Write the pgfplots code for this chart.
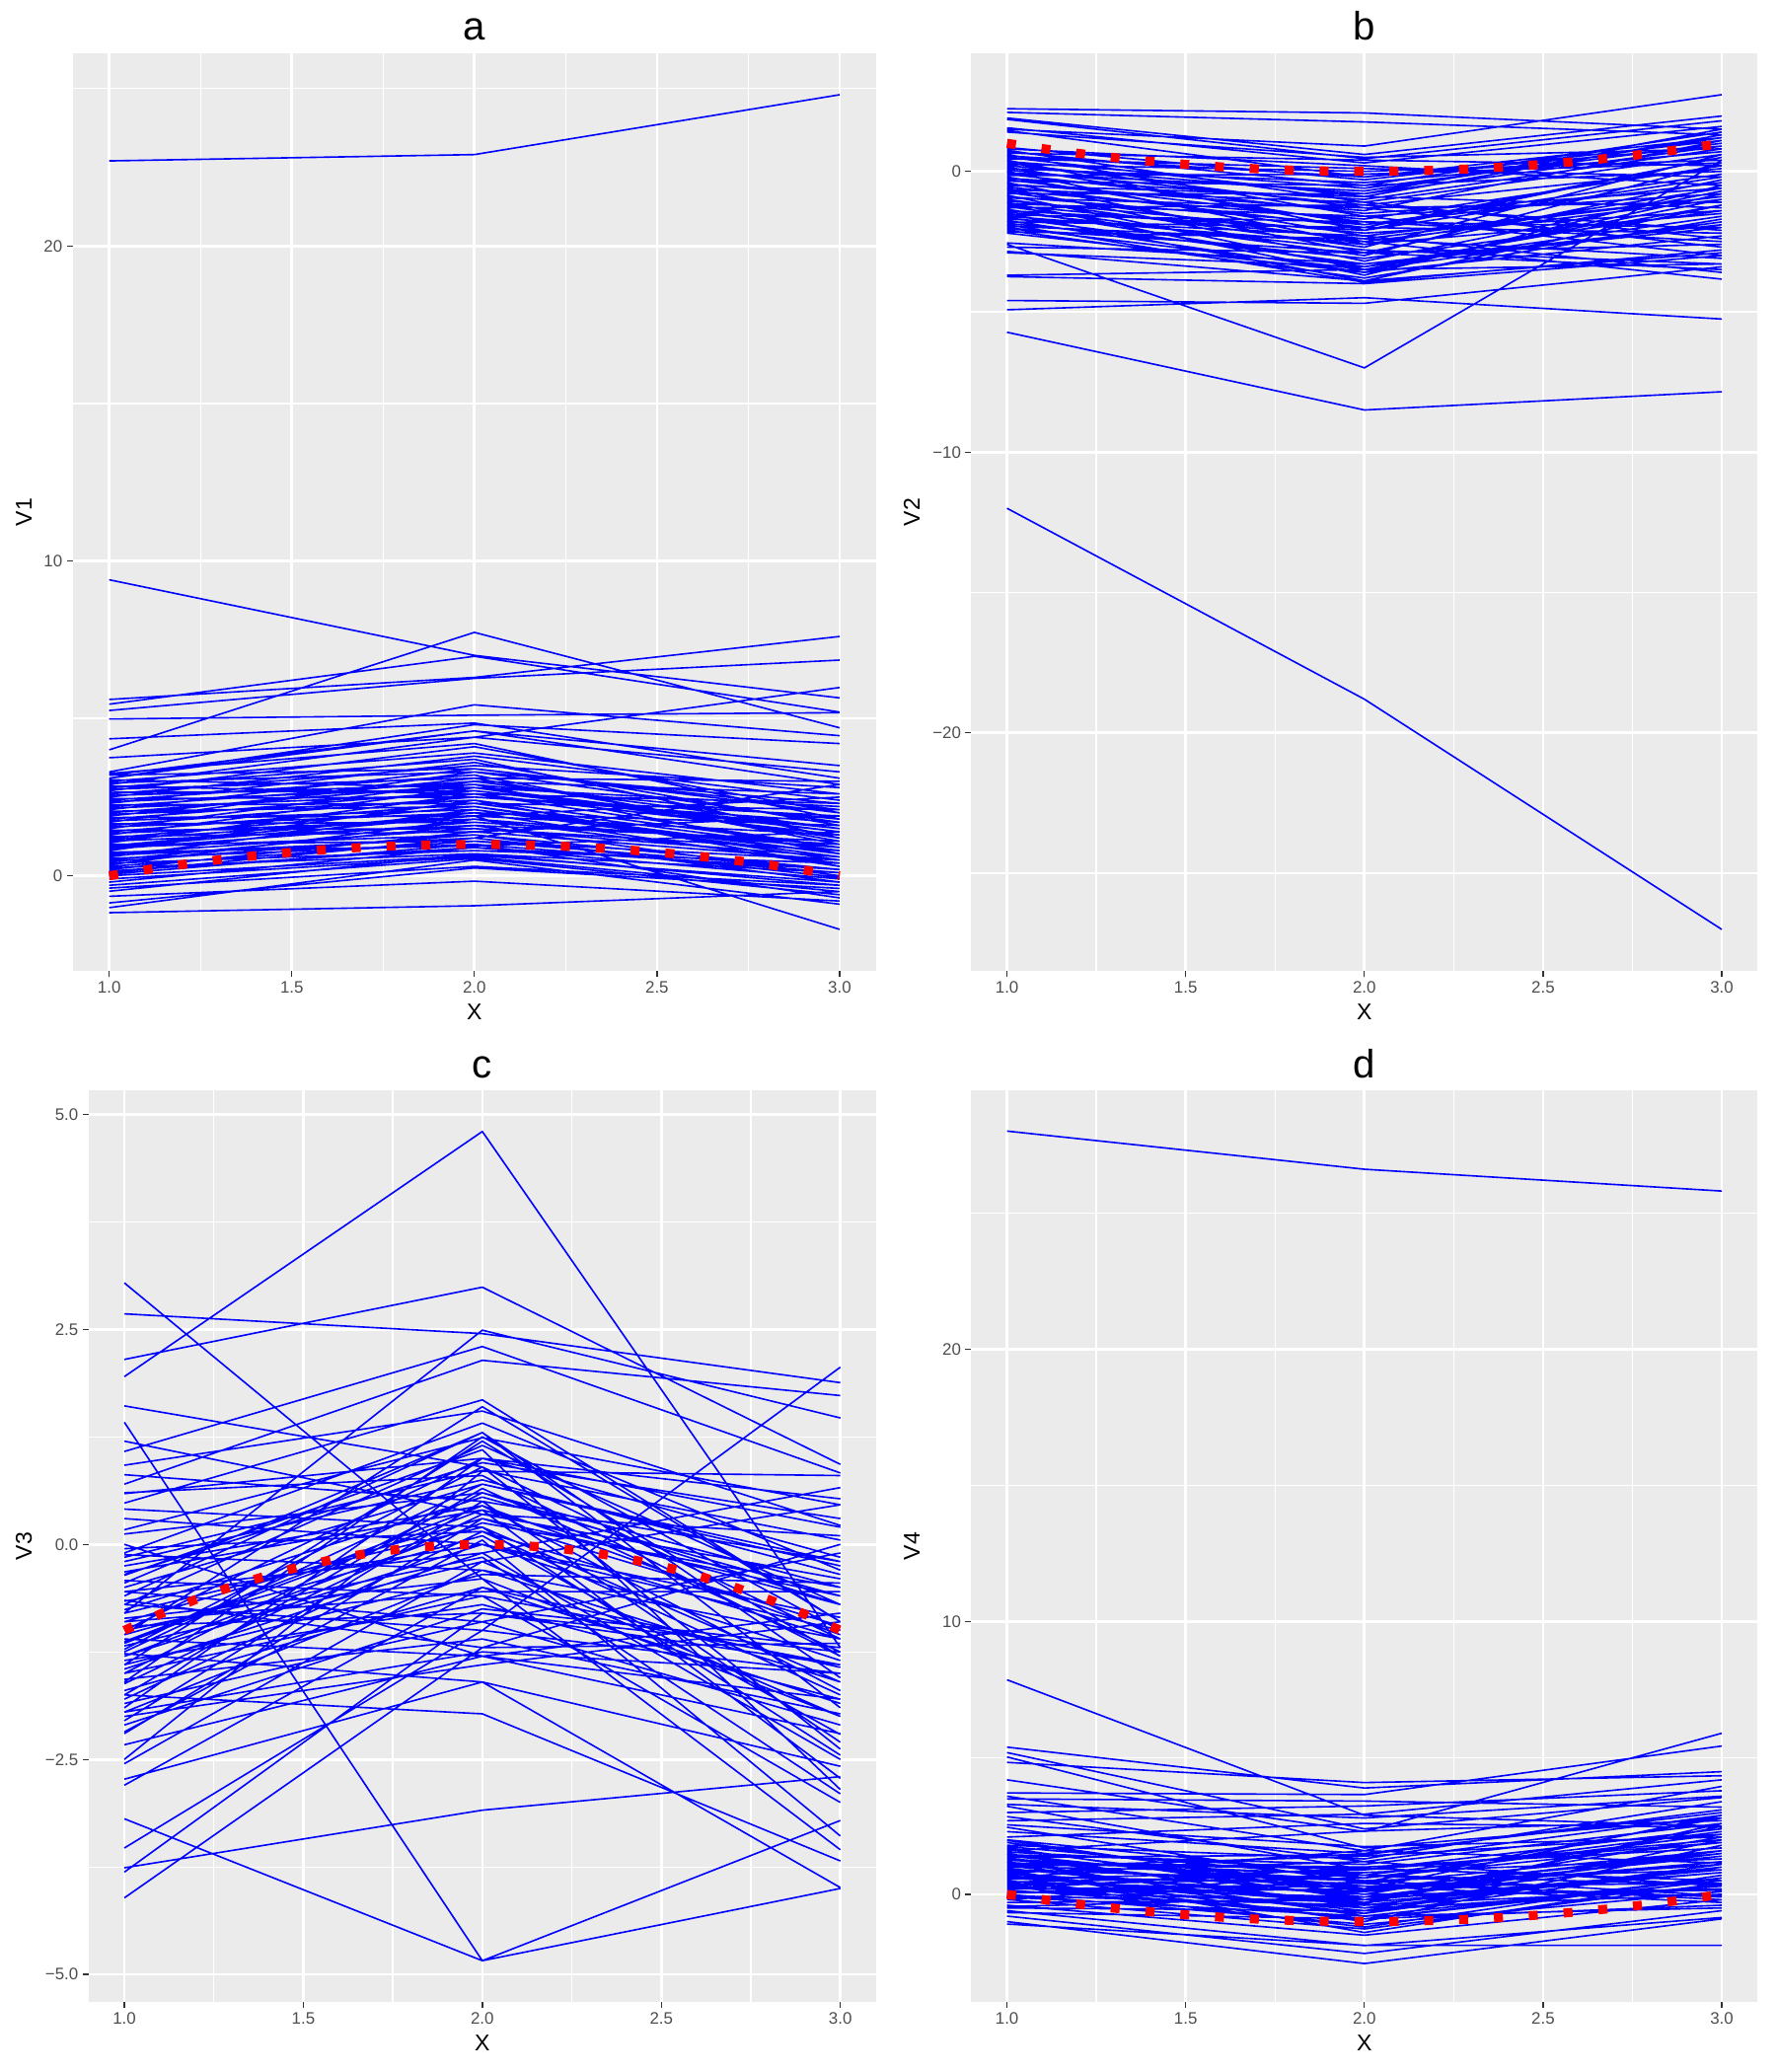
\documentclass[border=0pt]{standalone}
\usepackage{fontspec}
\setmainfont{Liberation Sans}
\usepackage{pgfplots}
\usepackage{pgfplotstable}
\pgfplotsset{compat=1.18}
\definecolor{panelbg}{HTML}{EBEBEB}
\definecolor{tickcol}{HTML}{333333}
\definecolor{ticklab}{HTML}{4D4D4D}
\definecolor{lineblue}{HTML}{0000FF}
\definecolor{curvered}{HTML}{FF0000}

\pgfplotsset{gg/.style={
  scale only axis,
  axis background/.style={fill=panelbg},
  axis line style={draw=none},
  grid=both,
  major grid style={white, line width=1pt},
  minor grid style={white, line width=0.5pt},
  tick align=outside,
  tick pos=left,
  major tick length=2.2pt,
  minor tick length=0pt,
  tick style={tickcol, line width=0.5pt},
  xmin=0.9, xmax=3.1,
  xtick={1,1.5,2,2.5,3},
  xticklabels={1.0,1.5,2.0,2.5,3.0},
  minor xtick={1.25,1.75,2.25,2.75},
  ticklabel style={font=\fontsize{6.3}{7}\selectfont, text=ticklab},
  xticklabel style={inner sep=1.5pt},
  yticklabel style={inner sep=1.5pt},
  xlabel={X},
  label style={font=\fontsize{8.6}{10}\selectfont},
  xlabel style={at={(axis description cs:0.5,0)}, anchor=base, yshift=-18.5pt, inner sep=0pt},
  every axis title/.style={font=\fontsize{15}{17}\selectfont, at={(axis description cs:0.5,1)}, anchor=base, yshift=4.7pt, inner sep=0pt},
  unbounded coords=jump,
}}
\tikzset{
  bl/.style={lineblue, line width=0.6pt, line join=round},
  rd/.style={curvered, line width=3.4pt, dash pattern=on 3.4pt off 9.8pt},
}

% ---------- panel a ----------
\pgfplotstableread[row sep=\\]{
x y\\
1 22.7\\ 2 22.9\\ 3 24.8\\ nan nan\\
1 9.4\\ 2 7.0\\ 3 5.65\\ nan nan\\
1 5.6\\ 2 6.3\\ 3 7.6\\ nan nan\\
1 5.45\\ 2 6.97\\ 3 5.2\\ nan nan\\
1 5.25\\ 2 6.27\\ 3 6.85\\ nan nan\\
1 4.98\\ 2 5.1\\ 3 5.18\\ nan nan\\
1 4.35\\ 2 4.85\\ 3 3.1\\ nan nan\\
1 4.0\\ 2 7.73\\ 3 4.7\\ nan nan\\
1 3.75\\ 2 4.4\\ 3 5.98\\ nan nan\\
1 3.3\\ 2 5.43\\ 3 4.45\\ nan nan\\
1 3.2\\ 2 4.6\\ 3 2.9\\ nan nan\\
1 3.1\\ 2 4.8\\ 3 4.2\\ nan nan\\
1 0.15\\ 2 0.9\\ 3 -0.1\\ nan nan\\
1 0.2\\ 2 1.4\\ 3 0.5\\ nan nan\\
1 0.25\\ 2 0.7\\ 3 -0.3\\ nan nan\\
1 0.3\\ 2 1.1\\ 3 0.2\\ nan nan\\
1 0.35\\ 2 1.8\\ 3 0.9\\ nan nan\\
1 0.4\\ 2 0.8\\ 3 0.4\\ nan nan\\
1 0.45\\ 2 1.3\\ 3 -0.2\\ nan nan\\
1 0.5\\ 2 1.6\\ 3 1.1\\ nan nan\\
1 0.55\\ 2 1.0\\ 3 0.1\\ nan nan\\
1 0.6\\ 2 2.1\\ 3 0.7\\ nan nan\\
1 0.65\\ 2 1.2\\ 3 -0.05\\ nan nan\\
1 0.7\\ 2 1.5\\ 3 0.6\\ nan nan\\
1 0.75\\ 2 0.95\\ 3 1.4\\ nan nan\\
1 0.8\\ 2 2.4\\ 3 0.3\\ nan nan\\
1 0.85\\ 2 1.7\\ 3 1.0\\ nan nan\\
1 0.9\\ 2 1.3\\ 3 0.2\\ nan nan\\
1 0.95\\ 2 2.0\\ 3 1.6\\ nan nan\\
1 1.0\\ 2 1.1\\ 3 0.5\\ nan nan\\
1 1.05\\ 2 2.6\\ 3 0.9\\ nan nan\\
1 1.1\\ 2 1.6\\ 3 0.0\\ nan nan\\
1 1.15\\ 2 1.9\\ 3 1.3\\ nan nan\\
1 1.2\\ 2 2.2\\ 3 0.7\\ nan nan\\
1 1.25\\ 2 1.4\\ 3 1.9\\ nan nan\\
1 1.3\\ 2 2.8\\ 3 1.2\\ nan nan\\
1 1.35\\ 2 1.8\\ 3 0.4\\ nan nan\\
1 1.4\\ 2 2.3\\ 3 2.1\\ nan nan\\
1 1.45\\ 2 1.5\\ 3 0.8\\ nan nan\\
1 1.5\\ 2 3.0\\ 3 1.5\\ nan nan\\
1 1.55\\ 2 2.0\\ 3 0.3\\ nan nan\\
1 1.6\\ 2 2.5\\ 3 1.7\\ nan nan\\
1 1.65\\ 2 1.7\\ 3 1.0\\ nan nan\\
1 1.7\\ 2 3.3\\ 3 2.3\\ nan nan\\
1 1.75\\ 2 2.1\\ 3 0.6\\ nan nan\\
1 1.8\\ 2 2.7\\ 3 1.4\\ nan nan\\
1 1.85\\ 2 1.9\\ 3 2.5\\ nan nan\\
1 1.9\\ 2 3.1\\ 3 1.1\\ nan nan\\
1 1.95\\ 2 2.4\\ 3 0.9\\ nan nan\\
1 2.0\\ 2 2.9\\ 3 1.8\\ nan nan\\
1 2.05\\ 2 2.2\\ 3 0.5\\ nan nan\\
1 2.1\\ 2 3.4\\ 3 2.0\\ nan nan\\
1 2.15\\ 2 2.6\\ 3 1.3\\ nan nan\\
1 2.2\\ 2 3.0\\ 3 2.6\\ nan nan\\
1 2.25\\ 2 2.3\\ 3 0.8\\ nan nan\\
1 2.3\\ 2 3.6\\ 3 1.6\\ nan nan\\
1 2.35\\ 2 2.8\\ 3 2.2\\ nan nan\\
1 2.4\\ 2 3.2\\ 3 1.0\\ nan nan\\
1 2.45\\ 2 2.5\\ 3 1.9\\ nan nan\\
1 2.5\\ 2 3.8\\ 3 2.4\\ nan nan\\
1 2.55\\ 2 2.9\\ 3 0.7\\ nan nan\\
1 2.6\\ 2 3.5\\ 3 2.8\\ nan nan\\
1 2.65\\ 2 2.7\\ 3 1.5\\ nan nan\\
1 2.7\\ 2 4.1\\ 3 2.0\\ nan nan\\
1 2.75\\ 2 3.1\\ 3 3.0\\ nan nan\\
1 2.8\\ 2 3.7\\ 3 1.2\\ nan nan\\
1 2.85\\ 2 2.6\\ 3 2.3\\ nan nan\\
1 2.9\\ 2 4.4\\ 3 3.3\\ nan nan\\
1 2.95\\ 2 3.3\\ 3 1.7\\ nan nan\\
1 3.0\\ 2 3.9\\ 3 2.6\\ nan nan\\
1 3.05\\ 2 2.8\\ 3 1.4\\ nan nan\\
1 3.1\\ 2 4.6\\ 3 3.5\\ nan nan\\
1 3.2\\ 2 3.4\\ 3 2.1\\ nan nan\\
1 3.25\\ 2 4.2\\ 3 1.8\\ nan nan\\
1 -0.1\\ 2 0.6\\ 3 -0.5\\ nan nan\\
1 -0.2\\ 2 0.9\\ 3 0.2\\ nan nan\\
1 -0.3\\ 2 0.55\\ 3 -0.6\\ nan nan\\
1 -0.39\\ 2 0.3\\ 3 -0.3\\ nan nan\\
1 -0.49\\ 2 0.7\\ 3 0.1\\ nan nan\\
1 -0.65\\ 2 -0.17\\ 3 -0.8\\ nan nan\\
1 -0.86\\ 2 0.25\\ 3 -0.4\\ nan nan\\
1 -1.01\\ 2 0.5\\ 3 -0.9\\ nan nan\\
1 -1.17\\ 2 -0.95\\ 3 -0.5\\ nan nan\\
1 0.05\\ 2 1.0\\ 3 -0.7\\ nan nan\\
1 0.0\\ 2 0.65\\ 3 -0.2\\ nan nan\\
1 0.1\\ 2 1.2\\ 3 2.9\\ nan nan\\
1 0.9\\ 2 1.9\\ 3 -1.7\\ nan nan\\
}\Ta

% ---------- panel b ----------
\pgfplotstableread[row sep=\\]{
x y\\
1 -12.0\\ 2 -18.8\\ 3 -27.0\\ nan nan\\
1 -5.73\\ 2 -8.5\\ 3 -7.85\\ nan nan\\
1 -2.6\\ 2 -7.0\\ 3 0.4\\ nan nan\\
1 -4.93\\ 2 -4.5\\ 3 -5.26\\ nan nan\\
1 -4.6\\ 2 -4.7\\ 3 -3.4\\ nan nan\\
1 -3.75\\ 2 -4.0\\ 3 -3.0\\ nan nan\\
1 -3.7\\ 2 -3.5\\ 3 -3.3\\ nan nan\\
1 2.23\\ 2 2.08\\ 3 1.5\\ nan nan\\
1 1.5\\ 2 0.9\\ 3 2.73\\ nan nan\\
1 2.1\\ 2 1.76\\ 3 1.3\\ nan nan\\
1 1.9\\ 2 0.6\\ 3 1.97\\ nan nan\\
1 1.85\\ 2 0.45\\ 3 1.8\\ nan nan\\
1 1.55\\ 2 0.3\\ 3 1.6\\ nan nan\\
1 1.45\\ 2 -0.2\\ 3 1.2\\ nan nan\\
1 1.4\\ 2 0.5\\ 3 0.8\\ nan nan\\
1 0.85\\ 2 -0.3\\ 3 1.1\\ nan nan\\
1 0.8\\ 2 0.2\\ 3 -0.5\\ nan nan\\
1 0.75\\ 2 -1.1\\ 3 0.6\\ nan nan\\
1 0.7\\ 2 -0.5\\ 3 1.4\\ nan nan\\
1 0.65\\ 2 0.4\\ 3 0.2\\ nan nan\\
1 0.6\\ 2 -1.6\\ 3 -0.8\\ nan nan\\
1 0.55\\ 2 -0.2\\ 3 0.9\\ nan nan\\
1 0.5\\ 2 -0.9\\ 3 1.3\\ nan nan\\
1 0.45\\ 2 0.1\\ 3 -0.2\\ nan nan\\
1 0.4\\ 2 -2.1\\ 3 0.5\\ nan nan\\
1 0.35\\ 2 -0.6\\ 3 1.0\\ nan nan\\
1 0.3\\ 2 -1.3\\ 3 -1.1\\ nan nan\\
1 0.25\\ 2 0.0\\ 3 0.4\\ nan nan\\
1 0.2\\ 2 -0.8\\ 3 1.5\\ nan nan\\
1 0.15\\ 2 -1.9\\ 3 -0.4\\ nan nan\\
1 0.1\\ 2 -0.4\\ 3 0.7\\ nan nan\\
1 0.05\\ 2 -1.2\\ 3 0.1\\ nan nan\\
1 0.0\\ 2 -2.6\\ 3 -1.5\\ nan nan\\
1 -0.05\\ 2 -0.7\\ 3 1.2\\ nan nan\\
1 -0.1\\ 2 -1.5\\ 3 -0.6\\ nan nan\\
1 -0.15\\ 2 -0.1\\ 3 0.3\\ nan nan\\
1 -0.2\\ 2 -2.3\\ 3 -0.9\\ nan nan\\
1 -0.25\\ 2 -1.0\\ 3 0.8\\ nan nan\\
1 -0.3\\ 2 -1.8\\ 3 -2.0\\ nan nan\\
1 -0.35\\ 2 -0.5\\ 3 0.0\\ nan nan\\
1 -0.4\\ 2 -2.9\\ 3 -0.3\\ nan nan\\
1 -0.45\\ 2 -1.4\\ 3 1.1\\ nan nan\\
1 -0.5\\ 2 -0.9\\ 3 -1.3\\ nan nan\\
1 -0.55\\ 2 -2.0\\ 3 0.5\\ nan nan\\
1 -0.6\\ 2 -3.2\\ 3 -0.7\\ nan nan\\
1 -0.65\\ 2 -1.1\\ 3 -2.4\\ nan nan\\
1 -0.7\\ 2 -1.7\\ 3 0.2\\ nan nan\\
1 -0.75\\ 2 -2.5\\ 3 -1.0\\ nan nan\\
1 -0.8\\ 2 -0.8\\ 3 0.9\\ nan nan\\
1 -0.85\\ 2 -3.5\\ 3 -1.8\\ nan nan\\
1 -0.9\\ 2 -1.9\\ 3 -0.1\\ nan nan\\
1 -0.95\\ 2 -1.3\\ 3 -2.7\\ nan nan\\
1 -1.0\\ 2 -2.7\\ 3 0.6\\ nan nan\\
1 -1.05\\ 2 -2.2\\ 3 -1.4\\ nan nan\\
1 -1.1\\ 2 -3.7\\ 3 -0.5\\ nan nan\\
1 -1.15\\ 2 -1.6\\ 3 -3.0\\ nan nan\\
1 -1.2\\ 2 -2.4\\ 3 -0.9\\ nan nan\\
1 -1.25\\ 2 -3.0\\ 3 0.3\\ nan nan\\
1 -1.3\\ 2 -1.2\\ 3 -2.1\\ nan nan\\
1 -1.35\\ 2 -3.4\\ 3 -1.6\\ nan nan\\
1 -1.4\\ 2 -2.1\\ 3 -0.2\\ nan nan\\
1 -1.45\\ 2 -2.8\\ 3 -3.3\\ nan nan\\
1 -1.5\\ 2 -3.9\\ 3 -1.2\\ nan nan\\
1 -1.55\\ 2 -1.8\\ 3 -2.5\\ nan nan\\
1 -1.6\\ 2 -2.6\\ 3 -0.6\\ nan nan\\
1 -1.65\\ 2 -3.3\\ 3 -1.9\\ nan nan\\
1 -1.7\\ 2 -2.3\\ 3 -3.6\\ nan nan\\
1 -1.75\\ 2 -3.6\\ 3 -0.8\\ nan nan\\
1 -1.8\\ 2 -2.0\\ 3 -2.2\\ nan nan\\
1 -1.85\\ 2 -3.1\\ 3 -1.4\\ nan nan\\
1 -1.9\\ 2 -3.95\\ 3 -2.8\\ nan nan\\
1 -1.95\\ 2 -2.5\\ 3 -3.84\\ nan nan\\
1 -2.0\\ 2 -3.5\\ 3 -1.0\\ nan nan\\
1 -2.05\\ 2 -2.9\\ 3 -2.6\\ nan nan\\
1 -2.1\\ 2 -3.8\\ 3 -1.7\\ nan nan\\
1 -2.15\\ 2 -2.4\\ 3 -3.1\\ nan nan\\
1 -2.2\\ 2 -3.6\\ 3 -2.3\\ nan nan\\
1 -2.55\\ 2 -3.3\\ 3 -2.0\\ nan nan\\
1 -2.7\\ 2 -2.9\\ 3 -3.5\\ nan nan\\
1 -2.85\\ 2 -3.9\\ 3 -2.9\\ nan nan\\
1 -2.9\\ 2 -3.4\\ 3 -1.2\\ nan nan\\
}\Tb

% ---------- panel c ----------
\pgfplotstableread[row sep=\\]{
x y\\
1 3.04\\ 2 -0.4\\ 3 -3.55\\ nan nan\\
1 2.68\\ 2 2.45\\ 3 1.88\\ nan nan\\
1 2.15\\ 2 2.99\\ 3 0.93\\ nan nan\\
1 1.95\\ 2 4.80\\ 3 -1.2\\ nan nan\\
1 1.61\\ 2 0.9\\ 3 -2.38\\ nan nan\\
1 1.42\\ 2 -4.84\\ 3 -3.21\\ nan nan\\
1 1.08\\ 2 2.30\\ 3 0.83\\ nan nan\\
1 0.92\\ 2 1.55\\ 3 0.22\\ nan nan\\
1 0.81\\ 2 0.5\\ 3 -0.2\\ nan nan\\
1 0.70\\ 2 2.14\\ 3 1.73\\ nan nan\\
1 0.59\\ 2 1.0\\ 3 0.53\\ nan nan\\
1 0.48\\ 2 1.68\\ 3 -0.9\\ nan nan\\
1 0.41\\ 2 0.2\\ 3 -1.6\\ nan nan\\
1 0.17\\ 2 1.24\\ 3 0.46\\ nan nan\\
1 0.12\\ 2 0.6\\ 3 -0.5\\ nan nan\\
1 -0.1\\ 2 1.41\\ 3 -0.3\\ nan nan\\
1 -0.12\\ 2 -0.3\\ 3 -1.1\\ nan nan\\
1 -0.15\\ 2 0.86\\ 3 0.05\\ nan nan\\
1 -0.32\\ 2 0.4\\ 3 -0.7\\ nan nan\\
1 -0.36\\ 2 1.1\\ 3 -2.85\\ nan nan\\
1 -0.42\\ 2 -0.6\\ 3 -1.4\\ nan nan\\
1 -0.5\\ 2 0.7\\ 3 -0.2\\ nan nan\\
1 -0.55\\ 2 -0.1\\ 3 0.66\\ nan nan\\
1 -0.6\\ 2 1.3\\ 3 -1.9\\ nan nan\\
1 -0.66\\ 2 0.0\\ 3 -1.0\\ nan nan\\
1 -0.7\\ 2 -1.0\\ 3 -1.5\\ nan nan\\
1 -0.76\\ 2 0.55\\ 3 -0.6\\ nan nan\\
1 -0.8\\ 2 2.49\\ 3 1.47\\ nan nan\\
1 -0.86\\ 2 -0.4\\ 3 -2.0\\ nan nan\\
1 -0.9\\ 2 0.3\\ 3 -0.95\\ nan nan\\
1 -0.95\\ 2 -0.8\\ 3 -1.25\\ nan nan\\
1 -1.0\\ 2 1.0\\ 3 -0.15\\ nan nan\\
1 -1.05\\ 2 0.1\\ 3 -2.21\\ nan nan\\
1 -1.1\\ 2 -1.3\\ 3 -0.8\\ nan nan\\
1 -1.13\\ 2 0.45\\ 3 -1.7\\ nan nan\\
1 -1.18\\ 2 -0.2\\ 3 0.46\\ nan nan\\
1 -1.22\\ 2 0.9\\ 3 -1.1\\ nan nan\\
1 -1.27\\ 2 -1.6\\ 3 -2.58\\ nan nan\\
1 -1.3\\ 2 0.25\\ 3 -0.5\\ nan nan\\
1 -1.35\\ 2 -0.7\\ 3 -1.8\\ nan nan\\
1 -1.4\\ 2 1.2\\ 3 -1.3\\ nan nan\\
1 -1.45\\ 2 -0.1\\ 3 -2.5\\ nan nan\\
1 -1.5\\ 2 0.6\\ 3 -0.7\\ nan nan\\
1 -1.57\\ 2 -1.1\\ 3 -1.97\\ nan nan\\
1 -1.62\\ 2 0.35\\ 3 0.1\\ nan nan\\
1 -1.7\\ 2 -0.5\\ 3 -1.43\\ nan nan\\
1 -1.75\\ 2 -1.97\\ 3 -3.68\\ nan nan\\
1 -1.8\\ 2 0.15\\ 3 -1.1\\ nan nan\\
1 -1.85\\ 2 -0.9\\ 3 -2.1\\ nan nan\\
1 -1.9\\ 2 1.0\\ 3 0.2\\ nan nan\\
1 -1.95\\ 2 -0.3\\ 3 -1.6\\ nan nan\\
1 -2.0\\ 2 -1.4\\ 3 -0.9\\ nan nan\\
1 -2.05\\ 2 0.5\\ 3 -2.3\\ nan nan\\
1 -2.1\\ 2 -0.75\\ 3 -1.2\\ nan nan\\
1 -2.18\\ 2 0.05\\ 3 -3.39\\ nan nan\\
1 -2.33\\ 2 -1.3\\ 3 -1.8\\ nan nan\\
1 -2.55\\ 2 -0.2\\ 3 -2.0\\ nan nan\\
1 -2.73\\ 2 -1.6\\ 3 -3.99\\ nan nan\\
1 -3.19\\ 2 -4.84\\ 3 -4.0\\ nan nan\\
1 -3.53\\ 2 -1.0\\ 3 2.06\\ nan nan\\
1 -3.76\\ 2 -3.09\\ 3 -2.7\\ nan nan\\
1 -3.81\\ 2 -0.8\\ 3 -1.4\\ nan nan\\
1 -4.11\\ 2 -1.2\\ 3 0.0\\ nan nan\\
1 -0.2\\ 2 0.75\\ 3 -0.35\\ nan nan\\
1 0.3\\ 2 0.0\\ 3 -0.85\\ nan nan\\
1 -0.45\\ 2 1.3\\ 3 -1.55\\ nan nan\\
1 -1.25\\ 2 0.7\\ 3 -0.25\\ nan nan\\
1 -0.9\\ 2 -0.55\\ 3 -0.55\\ nan nan\\
1 -1.6\\ 2 1.25\\ 3 -1.0\\ nan nan\\
1 -0.05\\ 2 0.15\\ 3 -1.75\\ nan nan\\
1 -1.15\\ 2 0.4\\ 3 -2.72\\ nan nan\\
1 -0.65\\ 2 -1.2\\ 3 -1.15\\ nan nan\\
1 -0.35\\ 2 0.95\\ 3 0.3\\ nan nan\\
1 -1.4\\ 2 -0.35\\ 3 -0.45\\ nan nan\\
1 -0.8\\ 2 0.2\\ 3 -2.45\\ nan nan\\
1 0.6\\ 2 0.8\\ 3 -1.3\\ nan nan\\
1 -2.2\\ 2 0.3\\ 3 -0.6\\ nan nan\\
1 -1.05\\ 2 1.6\\ 3 -0.9\\ nan nan\\
1 -0.55\\ 2 -0.9\\ 3 -0.1\\ nan nan\\
1 -1.75\\ 2 0.65\\ 3 -1.25\\ nan nan\\
1 0.0\\ 2 -1.3\\ 3 -2.2\\ nan nan\\
1 -0.25\\ 2 0.45\\ 3 -1.05\\ nan nan\\
1 -1.5\\ 2 -0.6\\ 3 -3.0\\ nan nan\\
1 -2.5\\ 2 0.85\\ 3 0.8\\ nan nan\\
1 -0.7\\ 2 1.15\\ 3 -0.7\\ nan nan\\
1 -1.95\\ 2 -1.25\\ 3 -1.5\\ nan nan\\
1 1.2\\ 2 0.35\\ 3 -0.4\\ nan nan\\
1 -1.3\\ 2 0.0\\ 3 -1.35\\ nan nan\\
1 -2.8\\ 2 -0.5\\ 3 -1.85\\ nan nan\\
1 -1.0\\ 2 -0.15\\ 3 -2.9\\ nan nan\\
}\Tc

% ---------- panel d ----------
\pgfplotstableread[row sep=\\]{
x y\\
1 28.0\\ 2 26.6\\ 3 25.8\\ nan nan\\
1 7.87\\ 2 2.9\\ 3 2.5\\ nan nan\\
1 5.40\\ 2 3.9\\ 3 4.5\\ nan nan\\
1 5.2\\ 2 2.4\\ 3 3.55\\ nan nan\\
1 5.04\\ 2 1.7\\ 3 2.8\\ nan nan\\
1 4.84\\ 2 4.1\\ 3 4.35\\ nan nan\\
1 4.2\\ 2 2.3\\ 3 5.91\\ nan nan\\
1 3.72\\ 2 3.66\\ 3 5.44\\ nan nan\\
1 3.6\\ 2 1.6\\ 3 3.96\\ nan nan\\
1 3.5\\ 2 3.42\\ 3 3.2\\ nan nan\\
1 3.23\\ 2 0.9\\ 3 2.0\\ nan nan\\
1 3.0\\ 2 3.24\\ 3 3.8\\ nan nan\\
1 2.85\\ 2 1.2\\ 3 2.9\\ nan nan\\
1 2.7\\ 2 2.94\\ 3 4.2\\ nan nan\\
1 2.46\\ 2 0.4\\ 3 1.6\\ nan nan\\
1 2.3\\ 2 1.5\\ 3 3.0\\ nan nan\\
1 2.1\\ 2 2.6\\ 3 2.46\\ nan nan\\
1 1.98\\ 2 0.1\\ 3 1.2\\ nan nan\\
1 1.8\\ 2 1.3\\ 3 3.4\\ nan nan\\
1 1.75\\ 2 0.6\\ 3 2.2\\ nan nan\\
1 1.7\\ 2 -0.2\\ 3 0.8\\ nan nan\\
1 1.6\\ 2 2.32\\ 3 2.7\\ nan nan\\
1 1.55\\ 2 0.9\\ 3 1.9\\ nan nan\\
1 1.5\\ 2 -0.5\\ 3 1.0\\ nan nan\\
1 1.45\\ 2 1.1\\ 3 2.6\\ nan nan\\
1 1.4\\ 2 0.3\\ 3 0.4\\ nan nan\\
1 1.35\\ 2 1.45\\ 3 3.1\\ nan nan\\
1 1.3\\ 2 -0.1\\ 3 1.5\\ nan nan\\
1 1.25\\ 2 0.7\\ 3 2.3\\ nan nan\\
1 1.2\\ 2 -0.8\\ 3 0.6\\ nan nan\\
1 1.15\\ 2 1.0\\ 3 1.7\\ nan nan\\
1 1.1\\ 2 0.2\\ 3 2.9\\ nan nan\\
1 1.05\\ 2 -0.4\\ 3 0.2\\ nan nan\\
1 1.0\\ 2 0.8\\ 3 1.3\\ nan nan\\
1 0.95\\ 2 -0.3\\ 3 2.5\\ nan nan\\
1 0.9\\ 2 0.5\\ 3 0.9\\ nan nan\\
1 0.85\\ 2 -1.0\\ 3 1.8\\ nan nan\\
1 0.8\\ 2 1.2\\ 3 0.3\\ nan nan\\
1 0.75\\ 2 0.0\\ 3 2.1\\ nan nan\\
1 0.7\\ 2 -0.6\\ 3 1.1\\ nan nan\\
1 0.65\\ 2 0.4\\ 3 -0.1\\ nan nan\\
1 0.6\\ 2 -0.2\\ 3 1.6\\ nan nan\\
1 0.55\\ 2 0.9\\ 3 2.4\\ nan nan\\
1 0.5\\ 2 -0.9\\ 3 0.5\\ nan nan\\
1 0.45\\ 2 0.1\\ 3 1.4\\ nan nan\\
1 0.4\\ 2 -0.5\\ 3 0.0\\ nan nan\\
1 0.35\\ 2 0.6\\ 3 1.9\\ nan nan\\
1 0.3\\ 2 -1.2\\ 3 0.7\\ nan nan\\
1 0.25\\ 2 -0.1\\ 3 1.2\\ nan nan\\
1 0.2\\ 2 0.3\\ 3 -0.3\\ nan nan\\
1 0.15\\ 2 -0.7\\ 3 2.0\\ nan nan\\
1 0.1\\ 2 -0.3\\ 3 0.8\\ nan nan\\
1 0.05\\ 2 0.2\\ 3 1.5\\ nan nan\\
1 0.0\\ 2 -1.1\\ 3 0.1\\ nan nan\\
1 -0.05\\ 2 -0.4\\ 3 1.0\\ nan nan\\
1 -0.1\\ 2 -0.8\\ 3 -0.5\\ nan nan\\
1 -0.19\\ 2 -1.27\\ 3 0.4\\ nan nan\\
1 -0.3\\ 2 -0.2\\ 3 0.9\\ nan nan\\
1 -0.4\\ 2 -1.5\\ 3 -0.2\\ nan nan\\
1 -0.5\\ 2 -0.6\\ 3 0.3\\ nan nan\\
1 -0.6\\ 2 -1.88\\ 3 -0.85\\ nan nan\\
1 -0.67\\ 2 -0.9\\ 3 0.6\\ nan nan\\
1 -0.8\\ 2 -2.17\\ 3 -0.6\\ nan nan\\
1 -1.0\\ 2 -2.54\\ 3 -0.9\\ nan nan\\
1 -1.09\\ 2 -1.87\\ 3 -1.87\\ nan nan\\
1 1.65\\ 2 0.0\\ 3 0.15\\ nan nan\\
1 1.0\\ 2 1.4\\ 3 2.2\\ nan nan\\
1 0.45\\ 2 0.7\\ 3 0.35\\ nan nan\\
1 0.8\\ 2 -0.7\\ 3 1.0\\ nan nan\\
1 1.3\\ 2 0.5\\ 3 -0.2\\ nan nan\\
1 0.2\\ 2 1.0\\ 3 1.7\\ nan nan\\
1 -0.2\\ 2 0.8\\ 3 1.3\\ nan nan\\
1 0.65\\ 2 -0.35\\ 3 2.6\\ nan nan\\
1 1.9\\ 2 0.2\\ 3 1.1\\ nan nan\\
1 0.35\\ 2 -0.9\\ 3 -0.4\\ nan nan\\
1 1.1\\ 2 0.95\\ 3 0.5\\ nan nan\\
1 0.05\\ 2 0.45\\ 3 2.8\\ nan nan\\
1 0.9\\ 2 -1.4\\ 3 0.6\\ nan nan\\
1 1.45\\ 2 0.15\\ 3 1.6\\ nan nan\\
1 2.55\\ 2 1.75\\ 3 2.1\\ nan nan\\
1 3.3\\ 2 2.8\\ 3 3.6\\ nan nan\\
1 -0.45\\ 2 -0.1\\ 3 0.2\\ nan nan\\
1 0.6\\ 2 1.6\\ 3 1.15\\ nan nan\\
1 2.0\\ 2 0.7\\ 3 -0.05\\ nan nan\\
}\Td

\begin{document}
\begin{tikzpicture}
\useasboundingbox (0,0) rectangle (672pt,-784pt);

% panel a
\begin{axis}[gg, at={(27.5pt,-367.5pt)}, anchor=south west,
  width=304pt, height=347.5pt, title={a}, ylabel={V1},
  ymin=-3.03, ymax=26.13, ytick={0,10,20}, yticklabels={0,10,20}, minor ytick={5,15,25},
  ylabel style={at={([xshift=-18.5pt]axis description cs:0,0.5)}, anchor=center, inner sep=0pt}]
\addplot[bl] table[x=x,y=y]{\Ta};
\addplot[rd] coordinates {(1,0)(1.1,0.19)(1.2,0.36)(1.3,0.51)(1.4,0.64)(1.5,0.75)(1.6,0.84)(1.7,0.91)(1.8,0.96)(1.9,0.99)(2,1)(2.1,0.99)(2.2,0.96)(2.3,0.91)(2.4,0.84)(2.5,0.75)(2.6,0.64)(2.7,0.51)(2.8,0.36)(2.9,0.19)(3,0)};
\end{axis}

% panel b
\begin{axis}[gg, at={(367.5pt,-367.5pt)}, anchor=south west,
  width=297.5pt, height=347.5pt, title={b}, ylabel={V2},
  ymin=-28.49, ymax=4.22, ytick={-20,-10,0}, yticklabels={−20,−10,0}, minor ytick={-25,-15,-5},
  ylabel style={at={([xshift=-22.5pt]axis description cs:0,0.5)}, anchor=center, inner sep=0pt}]
\addplot[bl] table[x=x,y=y]{\Tb};
\addplot[rd] coordinates {(1,1)(1.1,0.81)(1.2,0.64)(1.3,0.49)(1.4,0.36)(1.5,0.25)(1.6,0.16)(1.7,0.09)(1.8,0.04)(1.9,0.01)(2,0)(2.1,0.01)(2.2,0.04)(2.3,0.09)(2.4,0.16)(2.5,0.25)(2.6,0.36)(2.7,0.49)(2.8,0.64)(2.9,0.81)(3,1)};
\end{axis}

% panel c
\begin{axis}[gg, at={(33.5pt,-757.5pt)}, anchor=south west,
  width=298pt, height=345pt, title={c}, ylabel={V3},
  ymin=-5.32, ymax=5.28, ytick={-5,-2.5,0,2.5,5}, yticklabels={−5.0,−2.5,0.0,2.5,5.0}, minor ytick={-3.75,-1.25,1.25,3.75},
  ylabel style={at={([xshift=-24.5pt]axis description cs:0,0.5)}, anchor=center, inner sep=0pt}]
\addplot[bl] table[x=x,y=y]{\Tc};
\addplot[rd] coordinates {(1,-1)(1.1,-0.81)(1.2,-0.64)(1.3,-0.49)(1.4,-0.36)(1.5,-0.25)(1.6,-0.16)(1.7,-0.09)(1.8,-0.04)(1.9,-0.01)(2,0)(2.1,-0.01)(2.2,-0.04)(2.3,-0.09)(2.4,-0.16)(2.5,-0.25)(2.6,-0.36)(2.7,-0.49)(2.8,-0.64)(2.9,-0.81)(3,-1)};
\end{axis}

% panel d
\begin{axis}[gg, at={(367.5pt,-757.5pt)}, anchor=south west,
  width=297.5pt, height=345pt, title={d}, ylabel={V4},
  ymin=-3.95, ymax=29.5, ytick={0,10,20}, yticklabels={0,10,20}, minor ytick={5,15,25},
  ylabel style={at={([xshift=-22.5pt]axis description cs:0,0.5)}, anchor=center, inner sep=0pt}]
\addplot[bl] table[x=x,y=y]{\Td};
\addplot[rd] coordinates {(1,0)(1.1,-0.19)(1.2,-0.36)(1.3,-0.51)(1.4,-0.64)(1.5,-0.75)(1.6,-0.84)(1.7,-0.91)(1.8,-0.96)(1.9,-0.99)(2,-1)(2.1,-0.99)(2.2,-0.96)(2.3,-0.91)(2.4,-0.84)(2.5,-0.75)(2.6,-0.64)(2.7,-0.51)(2.8,-0.36)(2.9,-0.19)(3,0)};
\end{axis}
\end{tikzpicture}
\end{document}
